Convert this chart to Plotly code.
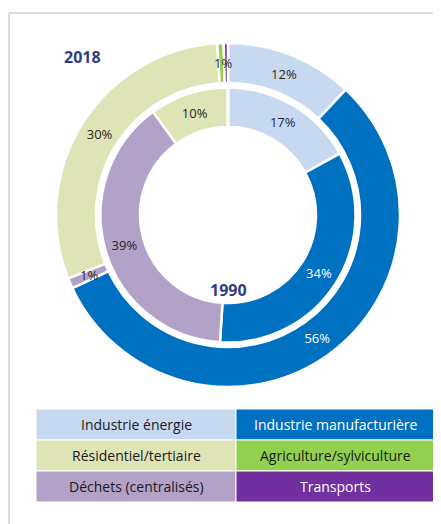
import math
import plotly.graph_objects as go

categories = ["Industrie énergie", "Industrie manufacturière", "Déchets (centralisés)",
              "Résidentiel/tertiaire", "Agriculture/sylviculture", "Transports"]
values_2018 = [12, 56, 1, 30, 0.6, 0.4]
labels_2018 = ["12%", "56%", "", "30%", "", ""]
values_1990 = [17, 34, 39, 10, 0, 0]
labels_1990 = ["17%", "34%", "39%", "10%", "", ""]
# small 2018 slices labelled outside the library's inside-text (too thin)
small_labels_2018 = [(["Déchets (centralisés)"], "1%"),
                     (["Agriculture/sylviculture", "Transports"], "1%")]

colors = ["#C6D9F1", "#0070C0", "#B3A2C8", "#DEE4B6", "#92D050", "#7030A0"]
text_colors = ["#262626", "white", "#262626", "#262626", "#262626", "white"]

legend_order = ["Industrie énergie", "Industrie manufacturière",
                "Résidentiel/tertiaire", "Agriculture/sylviculture",
                "Déchets (centralisés)", "Transports"]

W, H = 433, 516
FONT = "Open Sans"

# geometry (pixels from top-left of the figure)
CX, CY = 220, 207
R_OUT, R_OUT_HOLE = 172, 132
R_IN, R_IN_HOLE = 127.5, 88


def px_domain(r):
    return dict(x=[(CX - r) / W, (CX + r) / W], y=[(H - CY - r) / H, (H - CY + r) / H])


fig = go.Figure()
fig.add_trace(go.Pie(
    values=values_2018, labels=categories, text=labels_2018, textinfo="text",
    sort=False, direction="clockwise", rotation=0, hole=R_OUT_HOLE / R_OUT,
    marker=dict(colors=colors, line=dict(color="white", width=2.5)),
    textposition="inside", insidetextorientation="horizontal",
    textfont=dict(family=FONT, size=13, color=text_colors),
    domain=px_domain(R_OUT), hoverinfo="skip", showlegend=False,
))
fig.add_trace(go.Pie(
    values=values_1990, labels=categories, text=labels_1990, textinfo="text",
    sort=False, direction="clockwise", rotation=0, hole=R_IN_HOLE / R_IN,
    marker=dict(colors=colors, line=dict(color="white", width=2.5)),
    textposition="inside", insidetextorientation="horizontal",
    textfont=dict(family=FONT, size=13, color=text_colors),
    domain=px_domain(R_IN), hoverinfo="skip", showlegend=False,
))

shapes = []
annotations = []

# labels for the thin 2018 slices, placed at the slice's mid-angle
total = sum(values_2018)
for names, txt in small_labels_2018:
    idxs = [categories.index(n) for n in names]
    start = sum(values_2018[:min(idxs)])
    span = sum(values_2018[i] for i in idxs)
    theta = 2 * math.pi * (start + span / 2) / total
    r = (R_OUT + R_OUT_HOLE) / 2
    x = CX + r * math.sin(theta)
    y = CY - r * math.cos(theta)
    annotations.append(dict(xref="paper", yref="paper", x=x / W, y=(H - y) / H, text=txt,
                            showarrow=False, font=dict(family=FONT, size=13, color="#262626"),
                            xanchor="center", yanchor="middle"))

# frame
shapes.append(dict(type="line", xref="paper", yref="paper", x0=1 / W, x1=1.0,
                   y0=(H - 5) / H, y1=(H - 5) / H, line=dict(color="#DDDDDD", width=2)))
shapes.append(dict(type="line", xref="paper", yref="paper", x0=1 / W, x1=1 / W,
                   y0=0, y1=(H - 5) / H, line=dict(color="#DDDDDD", width=2)))

# legend table
col_x = [28, 228, 427]
row_y = [401, 432, 463, 494]
for i, name in enumerate(legend_order):
    r, c = divmod(i, 2)
    idx = categories.index(name)
    x0, x1 = col_x[c], col_x[c + 1]
    y0, y1 = row_y[r], row_y[r + 1]
    shapes.append(dict(type="rect", xref="paper", yref="paper",
                       x0=x0 / W, x1=x1 / W, y0=(H - y1) / H, y1=(H - y0) / H,
                       fillcolor=colors[idx], line=dict(color="white", width=1)))
    annotations.append(dict(xref="paper", yref="paper", x=(x0 + x1) / 2 / W,
                            y=(H - (y0 + y1) / 2) / H, text=name, showarrow=False,
                            font=dict(family=FONT, size=14,
                                      color="white" if text_colors[idx] == "white" else "#1A1A1A"),
                            xanchor="center", yanchor="middle"))

annotations.append(dict(xref="paper", yref="paper", x=74 / W, y=(H - 49) / H, text="<b>2018</b>",
                        showarrow=False, font=dict(family=FONT, size=16, color="#2F3D86"),
                        xanchor="center", yanchor="middle"))
annotations.append(dict(xref="paper", yref="paper", x=220 / W, y=(H - 282) / H, text="<b>1990</b>",
                        showarrow=False, font=dict(family=FONT, size=16, color="#2F3D86"),
                        xanchor="center", yanchor="middle"))

fig.update_layout(
    width=W, height=H, margin=dict(l=0, r=0, t=0, b=0),
    paper_bgcolor="white", plot_bgcolor="white",
    shapes=shapes, annotations=annotations,
)
fig.write_html("out.html")
